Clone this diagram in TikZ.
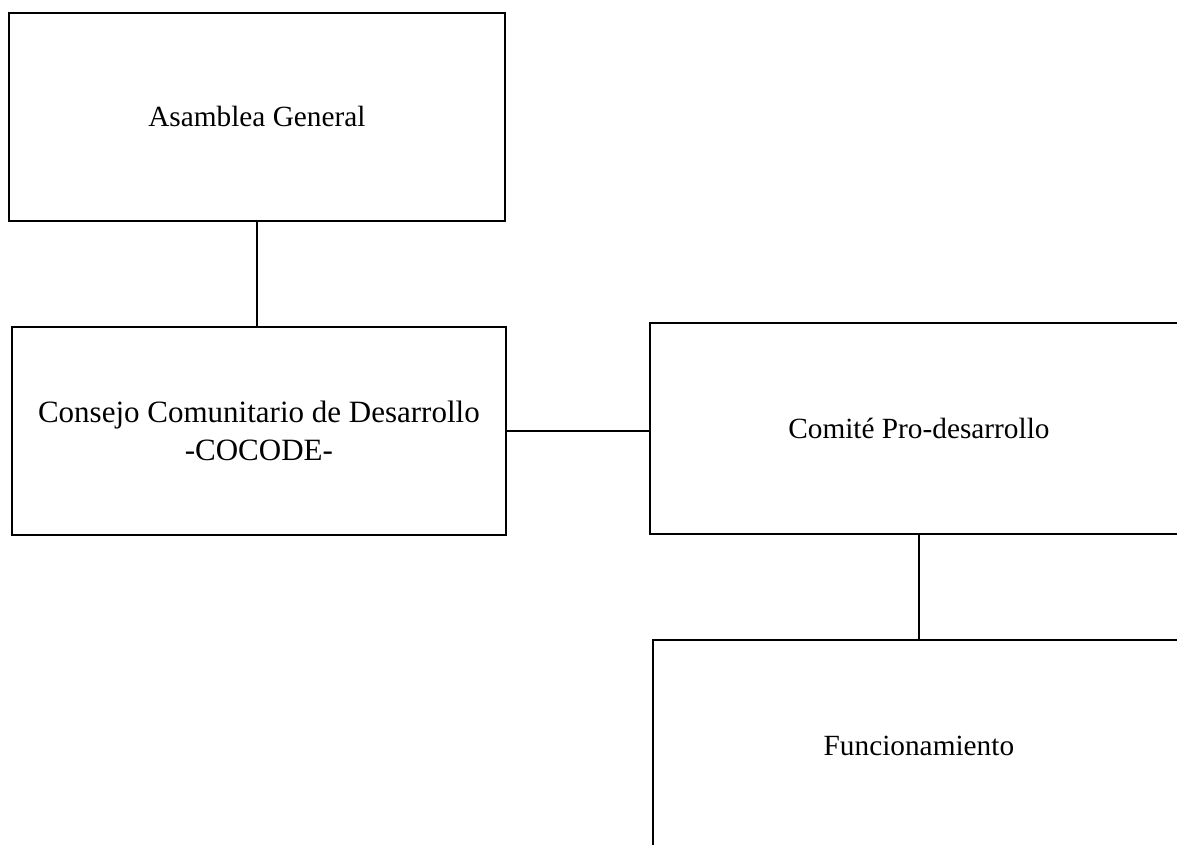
\documentclass[tikz,border=0pt]{standalone}
\usepackage{fontspec}
\setmainfont{Liberation Serif}
\begin{document}
\begin{tikzpicture}[x=1pt,y=-1pt,
  orgbox/.style={draw=black, line width=1.8pt, inner sep=0pt, anchor=north west,
    font=\fontsize{29.3}{30}\selectfont, align=center},
  conn/.style={draw=black, line width=1.5pt}]
\useasboundingbox (0,0) rectangle (1177,844);
\clip (0,0) rectangle (1177,844);
\node[orgbox, minimum width=496pt, minimum height=208pt] (asamblea) at (8,12) {Asamblea General};
\node[orgbox, minimum width=494pt, minimum height=208pt, font=\fontsize{31}{33}\selectfont] (cocode) at (11,326) {Consejo Comunitario de Desarrollo\\[5pt]-COCODE-};
\node[orgbox, minimum width=538pt, minimum height=211pt] (comite) at (649,322) {Comité Pro-desarrollo};
\node[orgbox, minimum width=532pt, minimum height=212pt] (func) at (652,639) {Funcionamiento};
\draw[conn] (asamblea.south) -- (asamblea.south |- cocode.north);
\draw[conn] (cocode.east) -- (cocode.east -| comite.west);
\draw[conn] (comite.south) -- (func.north);
\end{tikzpicture}
\end{document}
